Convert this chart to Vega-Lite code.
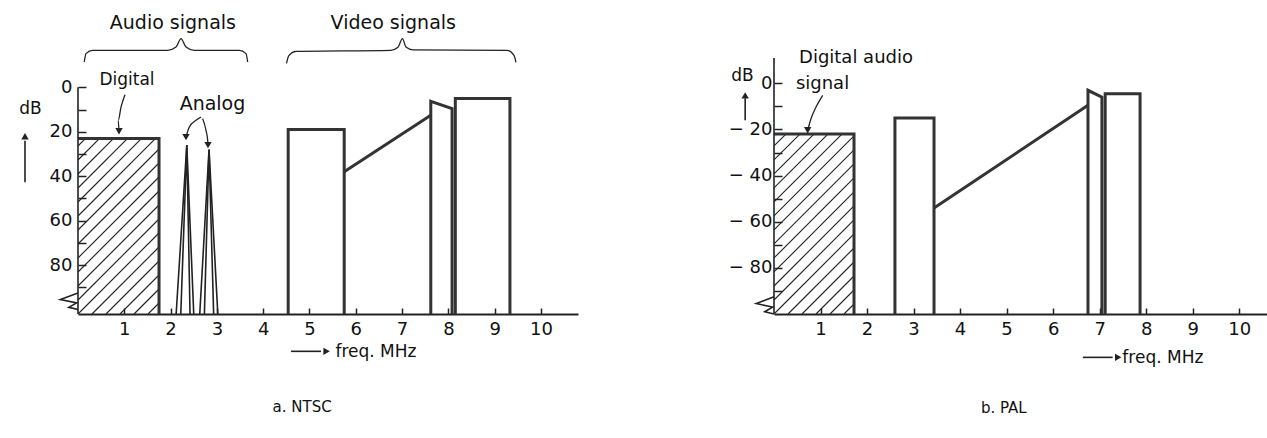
{
  "$schema": "https://vega.github.io/schema/vega-lite/v6.json",
  "background": "white",
  "padding": {"left": 19, "top": 13, "right": 5, "bottom": 5},
  "config": {
    "view": {"stroke": null},
    "font": "DejaVu Sans",
    "axis": {"labelFont": "DejaVu Sans", "labelFontSize": 18, "labelColor": "#111", "domainColor": "#222", "tickColor": "#222", "grid": false}
  },
  "datasets": {
    "hatchL": [
      {"x":1.512,"y":102,"x2":1.75,"y2":97.05},{"x":1.210,"y":102,"x2":1.75,"y2":90.75},{"x":0.907,"y":102,"x2":1.75,"y2":84.45},
      {"x":0.605,"y":102,"x2":1.75,"y2":78.15},{"x":0.302,"y":102,"x2":1.75,"y2":71.85},{"x":0,"y":102,"x2":1.75,"y2":65.55},
      {"x":0,"y":95.7,"x2":1.75,"y2":59.25},{"x":0,"y":89.4,"x2":1.75,"y2":52.95},{"x":0,"y":83.1,"x2":1.75,"y2":46.65},
      {"x":0,"y":76.8,"x2":1.75,"y2":40.35},{"x":0,"y":70.5,"x2":1.75,"y2":34.05},{"x":0,"y":64.2,"x2":1.75,"y2":27.75},
      {"x":0,"y":57.9,"x2":1.676,"y2":23},{"x":0,"y":51.6,"x2":1.374,"y2":23},{"x":0,"y":45.3,"x2":1.071,"y2":23},
      {"x":0,"y":39.0,"x2":0.769,"y2":23},{"x":0,"y":32.7,"x2":0.467,"y2":23},{"x":0,"y":26.4,"x2":0.164,"y2":23}
    ],
    "hatchR": [
      {"x":1.505,"y":-100,"x2":1.72,"y2":-95.66},{"x":1.204,"y":-100,"x2":1.72,"y2":-89.59},{"x":0.903,"y":-100,"x2":1.72,"y2":-83.52},
      {"x":0.602,"y":-100,"x2":1.72,"y2":-77.45},{"x":0.301,"y":-100,"x2":1.72,"y2":-71.38},{"x":0,"y":-100,"x2":1.72,"y2":-65.30},
      {"x":0,"y":-93.93,"x2":1.72,"y2":-59.23},{"x":0,"y":-87.86,"x2":1.72,"y2":-53.16},{"x":0,"y":-81.78,"x2":1.72,"y2":-47.09},
      {"x":0,"y":-75.71,"x2":1.72,"y2":-41.02},{"x":0,"y":-69.64,"x2":1.72,"y2":-34.94},{"x":0,"y":-63.57,"x2":1.72,"y2":-28.87},
      {"x":0,"y":-57.50,"x2":1.72,"y2":-22.80},{"x":0,"y":-51.43,"x2":1.460,"y2":-22},{"x":0,"y":-45.35,"x2":1.159,"y2":-22},
      {"x":0,"y":-39.28,"x2":0.858,"y2":-22},{"x":0,"y":-33.21,"x2":0.557,"y2":-22},{"x":0,"y":-27.14,"x2":0.256,"y2":-22}
    ],
    "thickL": [
      {"g":"dig","i":1,"x":0,"y":23},{"g":"dig","i":2,"x":1.75,"y":23},{"g":"dig","i":3,"x":1.75,"y":102},
      {"g":"v1","i":1,"x":4.54,"y":102},{"g":"v1","i":2,"x":4.54,"y":19},{"g":"v1","i":3,"x":5.75,"y":19},{"g":"v1","i":4,"x":5.75,"y":102},
      {"g":"sl","i":1,"x":5.75,"y":38},{"g":"sl","i":2,"x":7.62,"y":12.6},
      {"g":"ch","i":1,"x":7.62,"y":102},{"g":"ch","i":2,"x":7.62,"y":6.3},{"g":"ch","i":3,"x":8.08,"y":9.6},{"g":"ch","i":4,"x":8.08,"y":102},
      {"g":"v2","i":1,"x":8.15,"y":102},{"g":"v2","i":2,"x":8.15,"y":5},{"g":"v2","i":3,"x":9.33,"y":5},{"g":"v2","i":4,"x":9.33,"y":102}
    ],
    "thinL": [
      {"g":"t1","i":1,"x":2.12,"y":102},{"g":"t1","i":2,"x":2.35,"y":26},{"g":"t1","i":3,"x":2.5,"y":102},
      {"g":"t1b","i":1,"x":2.22,"y":102},{"g":"t1b","i":2,"x":2.35,"y":26},{"g":"t1b","i":3,"x":2.42,"y":102},
      {"g":"t2","i":1,"x":2.63,"y":102},{"g":"t2","i":2,"x":2.83,"y":28},{"g":"t2","i":3,"x":3.02,"y":102},
      {"g":"t2b","i":1,"x":2.73,"y":102},{"g":"t2b","i":2,"x":2.83,"y":28},{"g":"t2b","i":3,"x":2.93,"y":102},
      {"g":"ax","i":1,"x":0,"y":0},{"g":"ax","i":2,"x":0,"y":102},
      {"g":"zz","i":1,"x":0,"y":92.5},{"g":"zz","i":2,"x":-0.38,"y":95.5},{"g":"zz","i":3,"x":-0.03,"y":97},{"g":"zz","i":4,"x":-0.2,"y":99},{"g":"zz","i":5,"x":0,"y":100},
      {"g":"db","i":1,"x":-1.145,"y":42.75},{"g":"db","i":2,"x":-1.145,"y":24},
      {"g":"fq","i":1,"x":4.6,"y":118.8},{"g":"fq","i":2,"x":5.25,"y":118.8}
    ],
    "curveL": [
      {"g":"ad","i":1,"x":1.015,"y":3.3},{"g":"ad","i":2,"x":0.929,"y":8.9},{"g":"ad","i":3,"x":0.870,"y":14.85},{"g":"ad","i":4,"x":0.886,"y":20.7},
      {"g":"a1","i":1,"x":2.657,"y":13.37},{"g":"a1","i":2,"x":2.549,"y":14.85},{"g":"a1","i":3,"x":2.404,"y":17.87},{"g":"a1","i":4,"x":2.333,"y":22.37},
      {"g":"a2","i":1,"x":2.693,"y":14.09},{"g":"a2","i":2,"x":2.765,"y":19.35},{"g":"a2","i":3,"x":2.801,"y":23.85},{"g":"a2","i":4,"x":2.808,"y":26.0},
      {"g":"b1","i":1,"x":0.136,"y":-11.39},{"g":"b1","i":2,"x":0.173,"y":-15.17},{"g":"b1","i":3,"x":0.317,"y":-16.65},{"g":"b1","i":4,"x":1.937,"y":-16.65},
      {"g":"b1","i":5,"x":2.117,"y":-18.14},{"g":"b1","i":6,"x":2.225,"y":-21.92},{"g":"b1","i":7,"x":2.333,"y":-18.14},{"g":"b1","i":8,"x":2.512,"y":-16.65},
      {"g":"b1","i":9,"x":3.484,"y":-16.65},{"g":"b1","i":10,"x":3.629,"y":-15.17},{"g":"b1","i":11,"x":3.665,"y":-11.39},
      {"g":"b2","i":1,"x":4.503,"y":-10.80},{"g":"b2","i":2,"x":4.557,"y":-14.40},{"g":"b2","i":3,"x":4.708,"y":-16.20},{"g":"b2","i":4,"x":6.760,"y":-16.65},
      {"g":"b2","i":5,"x":6.911,"y":-18.00},{"g":"b2","i":6,"x":7.009,"y":-21.92},{"g":"b2","i":7,"x":7.084,"y":-18.14},{"g":"b2","i":8,"x":7.235,"y":-16.88},
      {"g":"b2","i":9,"x":9.266,"y":-16.65},{"g":"b2","i":10,"x":9.417,"y":-14.40},{"g":"b2","i":11,"x":9.460,"y":-11.25}
    ],
    "headsL": [
      {"x":0.886,"y":19.8,"d":"down"},{"x":2.333,"y":22.4,"d":"down"},{"x":2.808,"y":26.0,"d":"down"},
      {"x":-1.145,"y":22,"d":"up"},{"x":5.37,"y":118.8,"d":"right"}
    ],
    "bigL": [
      {"x":2.05,"y":-26.4,"t":"Audio signals"},{"x":6.81,"y":-26.4,"t":"Video signals"},{"x":2.905,"y":10.0,"t":"Analog"}
    ],
    "midL": [
      {"x":1.058,"y":-0.9,"t":"Digital"},{"x":-1.026,"y":11.8,"t":"dB"},{"x":6.436,"y":121.5,"t":"freq. MHz"}
    ],
    "capL": [{"x":4.84,"y":146,"t":"a. NTSC"}],
    "thickR": [
      {"g":"dig","i":1,"x":0,"y":-22},{"g":"dig","i":2,"x":1.72,"y":-22},{"g":"dig","i":3,"x":1.72,"y":-100},
      {"g":"v1","i":1,"x":2.6,"y":-100},{"g":"v1","i":2,"x":2.6,"y":-15},{"g":"v1","i":3,"x":3.44,"y":-15},{"g":"v1","i":4,"x":3.44,"y":-100},
      {"g":"sl","i":1,"x":3.44,"y":-54},{"g":"sl","i":2,"x":6.75,"y":-9.5},
      {"g":"ch","i":1,"x":6.75,"y":-100},{"g":"ch","i":2,"x":6.75,"y":-3},{"g":"ch","i":3,"x":7.05,"y":-6},{"g":"ch","i":4,"x":7.05,"y":-100},
      {"g":"v2","i":1,"x":7.12,"y":-100},{"g":"v2","i":2,"x":7.12,"y":-4.5},{"g":"v2","i":3,"x":7.87,"y":-4.5},{"g":"v2","i":4,"x":7.87,"y":-100}
    ],
    "thinR": [
      {"g":"ax","i":1,"x":0,"y":11},{"g":"ax","i":2,"x":0,"y":-100},
      {"g":"zz","i":1,"x":0,"y":-92.5},{"g":"zz","i":2,"x":-0.38,"y":-95.5},{"g":"zz","i":3,"x":-0.03,"y":-97},{"g":"zz","i":4,"x":-0.2,"y":-99},{"g":"zz","i":5,"x":0,"y":-100},
      {"g":"db","i":1,"x":-0.62,"y":-16},{"g":"db","i":2,"x":-0.62,"y":-6.5},
      {"g":"fq","i":1,"x":6.64,"y":-118.8},{"g":"fq","i":2,"x":7.28,"y":-118.8}
    ],
    "curveR": [
      {"g":"ad","i":1,"x":1.047,"y":-5.2},{"g":"ad","i":2,"x":0.903,"y":-10.28},{"g":"ad","i":3,"x":0.795,"y":-15.31},{"g":"ad","i":4,"x":0.724,"y":-20.3}
    ],
    "headsR": [
      {"x":0.724,"y":-20.3,"d":"down"},{"x":-0.62,"y":-5.2,"d":"up"},{"x":7.40,"y":-118.8,"d":"right"}
    ],
    "bigR": [
      {"x":1.763,"y":8.8,"t":"Digital audio"},{"x":1.043,"y":-2.3,"t":"signal"}
    ],
    "midR": [
      {"x":-0.68,"y":0.9,"t":"dB"},{"x":8.36,"y":-121.4,"t":"freq. MHz"}
    ],
    "capR": [{"x":4.94,"y":-143.1,"t":"b. PAL"}]
  },
  "hconcat": [
    {
      "width": 500,
      "height": 256,
      "encoding": {
        "x": {"field": "x", "type": "quantitative", "scale": {"domain": [0, 10.8], "nice": false, "zero": false},
              "axis": {"values": [1,2,3,4,5,6,7,8,9,10], "title": null, "tickSize": -6, "tickWidth": 1.5, "domainWidth": 2, "labelPadding": 12, "labelFlush": false}},
        "y": {"field": "y", "type": "quantitative", "scale": {"domain": [-13.2, 102], "nice": false, "zero": false, "reverse": true},
              "axis": {"values": [0,10,20,30,40,50,60,70,80,90], "title": null, "domain": false, "tickSize": -8, "tickWidth": 1.5, "labelPadding": 14,
                       "labelExpr": "datum.value % 20 == 0 ? datum.label : ''"}}
      },
      "layer": [
        {"data": {"name": "hatchL"}, "mark": {"type": "rule", "color": "#222", "strokeWidth": 1.1, "clip": false},
         "encoding": {"x2": {"field": "x2"}, "y2": {"field": "y2"}}},
        {"data": {"name": "thickL"}, "mark": {"type": "line", "color": "#333", "strokeWidth": 3, "clip": false},
         "encoding": {"detail": {"field": "g"}, "order": {"field": "i"}}},
        {"data": {"name": "thinL"}, "mark": {"type": "line", "color": "#222", "strokeWidth": 1.6, "clip": false},
         "encoding": {"detail": {"field": "g"}, "order": {"field": "i"}}},
        {"data": {"name": "curveL"}, "mark": {"type": "line", "color": "#222", "strokeWidth": 1.3, "interpolate": "monotone", "clip": false},
         "encoding": {"detail": {"field": "g"}, "order": {"field": "i"}}},
        {"data": {"name": "headsL"}, "mark": {"type": "point", "filled": true, "color": "#222", "size": 55, "opacity": 1, "clip": false},
         "encoding": {"shape": {"field": "d", "type": "nominal", "legend": null, "scale": {"domain": ["up","down","right"], "range": ["triangle-up","triangle-down","triangle-right"]}}}},
        {"data": {"name": "bigL"}, "mark": {"type": "text", "fontSize": 19, "font": "DejaVu Sans", "color": "#111", "align": "center", "baseline": "alphabetic", "clip": false},
         "encoding": {"text": {"field": "t"}}},
        {"data": {"name": "midL"}, "mark": {"type": "text", "fontSize": 17, "font": "DejaVu Sans", "color": "#111", "align": "center", "baseline": "alphabetic", "clip": false},
         "encoding": {"text": {"field": "t"}}},
        {"data": {"name": "capL"}, "mark": {"type": "text", "fontSize": 15, "font": "DejaVu Sans", "color": "#111", "align": "center", "baseline": "alphabetic", "clip": false},
         "encoding": {"text": {"field": "t"}}}
      ]
    },
    {
      "width": 494,
      "height": 256,
      "encoding": {
        "x": {"field": "x", "type": "quantitative", "scale": {"domain": [0, 10.62], "nice": false, "zero": false},
              "axis": {"values": [1,2,3,4,5,6,7,8,9,10], "title": null, "tickSize": -6, "tickWidth": 1.5, "domainWidth": 2, "labelPadding": 12, "labelFlush": false}},
        "y": {"field": "y", "type": "quantitative", "scale": {"domain": [-100, 11], "nice": false, "zero": false},
              "axis": {"values": [0,-10,-20,-30,-40,-50,-60,-70,-80,-90], "title": null, "domain": false, "tickSize": -8, "tickWidth": 1.5, "labelPadding": 10,
                       "labelExpr": "datum.value % 20 == 0 ? (datum.value < 0 ? '\u2212 ' + (-datum.value) : '0') : ''"}}
      },
      "layer": [
        {"data": {"name": "hatchR"}, "mark": {"type": "rule", "color": "#222", "strokeWidth": 1.1, "clip": false},
         "encoding": {"x2": {"field": "x2"}, "y2": {"field": "y2"}}},
        {"data": {"name": "thickR"}, "mark": {"type": "line", "color": "#333", "strokeWidth": 3, "clip": false},
         "encoding": {"detail": {"field": "g"}, "order": {"field": "i"}}},
        {"data": {"name": "thinR"}, "mark": {"type": "line", "color": "#222", "strokeWidth": 1.6, "clip": false},
         "encoding": {"detail": {"field": "g"}, "order": {"field": "i"}}},
        {"data": {"name": "curveR"}, "mark": {"type": "line", "color": "#222", "strokeWidth": 1.3, "interpolate": "monotone", "clip": false},
         "encoding": {"detail": {"field": "g"}, "order": {"field": "i"}}},
        {"data": {"name": "headsR"}, "mark": {"type": "point", "filled": true, "color": "#222", "size": 55, "opacity": 1, "clip": false},
         "encoding": {"shape": {"field": "d", "type": "nominal", "legend": null, "scale": {"domain": ["up","down","right"], "range": ["triangle-up","triangle-down","triangle-right"]}}}},
        {"data": {"name": "bigR"}, "mark": {"type": "text", "fontSize": 18, "font": "DejaVu Sans", "color": "#111", "align": "center", "baseline": "alphabetic", "clip": false},
         "encoding": {"text": {"field": "t"}}},
        {"data": {"name": "midR"}, "mark": {"type": "text", "fontSize": 17, "font": "DejaVu Sans", "color": "#111", "align": "center", "baseline": "alphabetic", "clip": false},
         "encoding": {"text": {"field": "t"}}},
        {"data": {"name": "capR"}, "mark": {"type": "text", "fontSize": 15, "font": "DejaVu Sans", "color": "#111", "align": "center", "baseline": "alphabetic", "clip": false},
         "encoding": {"text": {"field": "t"}}}
      ]
    }
  ],
  "bounds": "flush",
  "spacing": 196
}
